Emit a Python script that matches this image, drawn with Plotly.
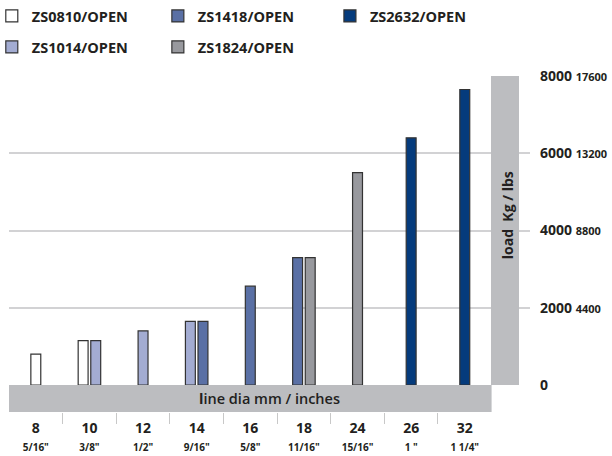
import plotly.graph_objects as go
import numpy as np

# ---------------- data ----------------
mm_labels = ["8", "10", "12", "14", "16", "18", "24", "26", "32"]
inch_labels = ['5/16"', '3/8"', '1/2"', '9/16"', '5/8"', '11/16"', '15/16"', '1 "', '1 1/4"']

series_names = ["ZS0810/OPEN", "ZS1014/OPEN", "ZS1418/OPEN", "ZS1824/OPEN", "ZS2632/OPEN"]
zs0810 = [800, 1150, None, None, None, None, None, None, None]
zs1014 = [None, 1150, 1400, 1650, None, None, None, None, None]
zs1418 = [None, None, None, 1650, 2560, 3300, None, None, None]
zs1824 = [None, None, None, None, None, 3300, 5500, None, None]
zs2632 = [None, None, None, None, None, None, None, 6400, 7650]
series_values = [zs0810, zs1014, zs1418, zs1824, zs2632]
series_colors = ["#FFFFFF", "#A3ACD2", "#5A70A5", "#98999E", "#053B7C"]

kg_ticks = [0, 2000, 4000, 6000, 8000]
lbs_ticks = [None, 4400, 8800, 13200, 17600]

# ---------------- layout constants ----------------
W, H = 612, 456
FONT = "Open Sans"
TXT = "#231F20"
BAND = "#BCBDC0"
bar_w = 0.185
bar_gap = 0.05
plot_left, plot_right = 9.2, 530
plot_top, plot_bottom = 75.7, 412
plot_w = plot_right - plot_left
zero_px = 385
y_dom0 = (plot_bottom - zero_px) / (plot_bottom - plot_top)

n_cat = len(mm_labels)
x_idx = np.arange(n_cat)

# offsets so bars present in a category sit side by side, centred
present = [[j for j, s in enumerate(series_values) if s[i] is not None] for i in range(n_cat)]
offsets = {}
for i, lst in enumerate(present):
    n = len(lst)
    total = n * bar_w + (n - 1) * bar_gap
    for r, j in enumerate(lst):
        offsets[(i, j)] = -total / 2 + r * (bar_w + bar_gap)

legend_of = ["legend", "legend4", "legend2", "legend5", "legend3"]

fig = go.Figure()
for j, (name, vals, col) in enumerate(zip(series_names, series_values, series_colors)):
    xs = [int(i) for i in x_idx if vals[i] is not None]
    ys = [vals[i] for i in xs]
    offs = [offsets[(i, j)] for i in xs]
    fig.add_trace(go.Bar(
        x=xs, y=ys, name=name, width=bar_w, offset=offs,
        marker=dict(color=col, line=dict(color="#333333", width=1.2)),
        legend=legend_of[j], showlegend=True,
    ))

ticktext_x = [f"<b>{m}</b><br><span style='font-size:10px'><b>{i}</b></span>"
              for m, i in zip(mm_labels, inch_labels)]
ticktext_y = [f"<b>{k}</b>" + ("" if l is None else f" <span style='font-size:11px'><b>{l}</b></span>")
              for k, l in zip(kg_ticks, lbs_ticks)]

x_range_max = (n_cat - 0.5) + (plot_right - 491.6) / 53.6

def leg(xpx, ypx):
    return dict(x=(xpx - plot_left) / plot_w, y=1 - ypx / H, xref="paper", yref="container",
                xanchor="left", yanchor="middle", orientation="h",
                bgcolor="rgba(0,0,0,0)", borderwidth=0,
                font=dict(family=FONT, size=14.5, color=TXT, weight="bold"))

fig.update_layout(
    width=W, height=H,
    margin=dict(l=plot_left, r=W - plot_right, t=plot_top, b=H - plot_bottom, pad=0,
                autoexpand=False),
    paper_bgcolor="white", plot_bgcolor="white",
    font=dict(family=FONT, color=TXT),
    barmode="overlay",
    xaxis=dict(
        range=[-0.5, x_range_max], domain=[0, 1], anchor="free", position=0,
        tickmode="array", tickvals=x_idx, ticktext=ticktext_x,
        ticks="", showgrid=False, zeroline=False, showline=False,
        tickfont=dict(family=FONT, size=14, color=TXT), ticklabelstandoff=6,
        minor=dict(tickmode="array", tickvals=list(x_idx[:-1] + 0.5), ticks="outside",
                   ticklen=11, tickcolor="#C8C8C8", tickwidth=1, showgrid=False),
    ),
    yaxis=dict(
        range=[0, 8000], domain=[y_dom0, 1], side="right", anchor="x",
        tickmode="array", tickvals=kg_ticks, ticktext=ticktext_y,
        showgrid=True, gridcolor="#D2D2D4", gridwidth=1.5,
        zeroline=False, showline=False, ticks="",
        tickfont=dict(family=FONT, size=14, color=TXT), ticklabelstandoff=9,
    ),
    showlegend=True,
    legend=leg(-8, 16),
    legend2=leg(158, 16),
    legend3=leg(330, 16),
    legend4=leg(-8, 47),
    legend5=leg(158, 47),
    shapes=[
        dict(type="rect", xref="x", yref="paper", x0=-0.5, x1=n_cat - 0.5, y0=0, y1=y_dom0,
             fillcolor=BAND, line=dict(width=0), layer="above"),
        dict(type="rect", xref="paper", yref="y",
             x0=(491 - plot_left) / plot_w,
             x1=(519 - plot_left) / plot_w,
             y0=-20, y1=8000, fillcolor=BAND, line=dict(width=0), layer="above"),
    ],
    annotations=[
        dict(text="<b>l</b>ine dia mm / inches", xref="paper", yref="paper",
             x=0.5, y=y_dom0 / 2, showarrow=False, xanchor="center", yanchor="middle",
             font=dict(family=FONT, size=14.5, color=TXT, weight=600)),
        dict(text="<b>load  Kg / lbs</b>", xref="paper", yref="paper",
             x=(507 - plot_left) / plot_w, y=(plot_bottom - 215) / (plot_bottom - plot_top),
             textangle=-90, showarrow=False, xanchor="center", yanchor="middle",
             font=dict(family=FONT, size=14, color=TXT)),
    ],
)

fig.write_html("out.html", config={"displayModeBar": False},
               post_script="document.body.style.margin='0';")
